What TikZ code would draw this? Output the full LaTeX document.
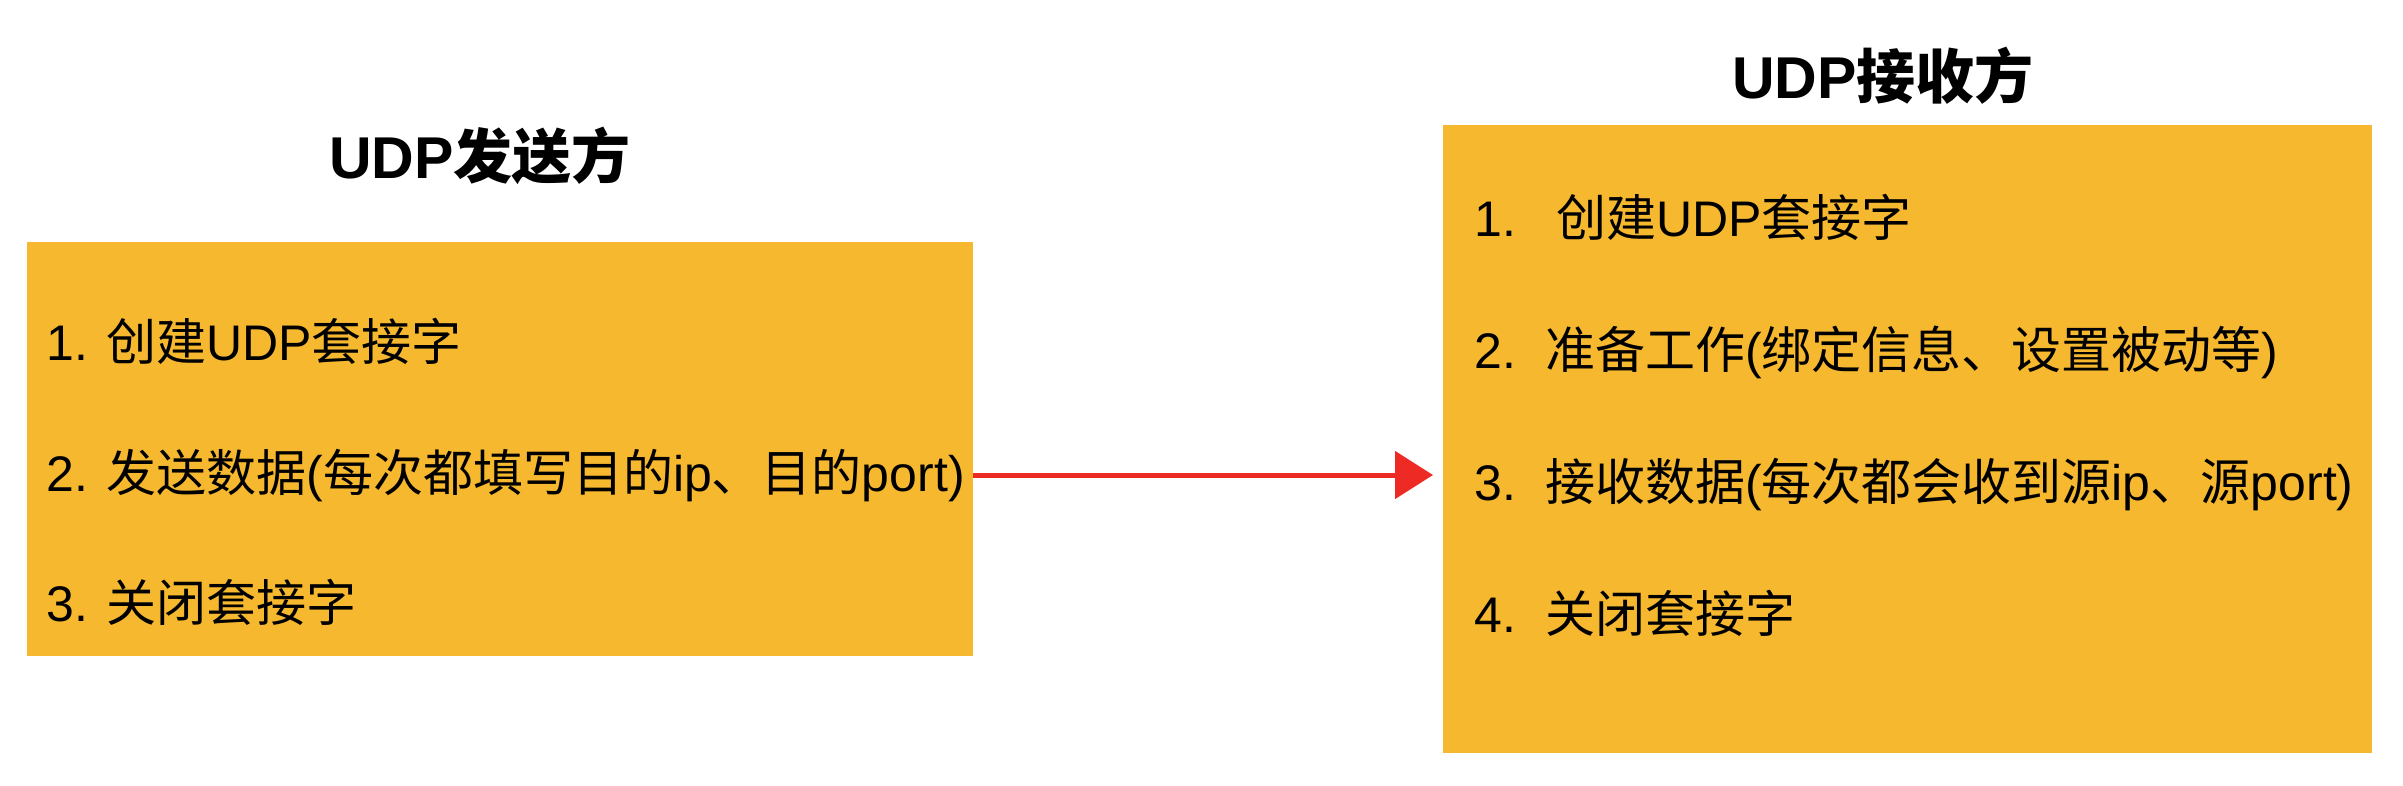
\documentclass[tikz,border=0pt]{standalone}
\usepackage{fontspec}
\setmainfont{Liberation Sans}
\newfontfamily\cjk{Noto Sans CJK SC}
\usetikzlibrary{arrows.meta}
\definecolor{boxfill}{HTML}{F6B82E}
\definecolor{arrred}{HTML}{EE2A24}
\begin{document}
\begin{tikzpicture}[x=1pt,y=-1pt,
  panel/.style={fill=boxfill,draw=none,inner sep=0pt,outer sep=0pt},
  item/.style={anchor=base west,inner sep=0pt,font=\fontsize{50}{60}\selectfont},
  title/.style={anchor=base west,inner sep=0pt,font=\fontsize{59}{70}\selectfont\bfseries},
  arr/.style={draw=arrred,line width=5pt,-{Triangle[length=38pt,width=47pt]}}]
\useasboundingbox (0,0) rectangle (2403,785);
% boxes
\node[panel,minimum width=946pt,minimum height=414pt,anchor=north west] (sendbox) at (27,242) {};
\node[panel,minimum width=929pt,minimum height=628pt,anchor=north west] (recvbox) at (1443,125) {};
% titles
\node[title] (sendtitle) at (329,178) {UDP{\cjk\bfseries 发送方}};
\node[title] (recvtitle) at (1732,98) {UDP{\cjk\bfseries 接收方}};
% sender items
\node[item] (s1) at (46,360) {1. {\cjk 创建}UDP{\cjk 套接字}};
\node[item] (s2) at (46,491) {2. {\cjk 发送数据}({\cjk 每次都填写目的}ip{\cjk 、目的}port)};
\node[item] (s3) at (46,621) {3. {\cjk 关闭套接字}};
% receiver items
\node[item] (r1n) at (1474,236) {1.};
\node[item] (r1) at (1556,236) {{\cjk 创建}UDP{\cjk 套接字}};
\node[item] (r2n) at (1474,368) {2.};
\node[item] (r2) at (1545,368) {{\cjk 准备工作}({\cjk 绑定信息、设置被动等})};
\node[item] (r3n) at (1474,500) {3.};
\node[item] (r3) at (1545,500) {{\cjk 接收数据}({\cjk 每次都会收到源}ip{\cjk 、源}port)};
\node[item] (r4n) at (1474,632) {4.};
\node[item] (r4) at (1545,632) {{\cjk 关闭套接字}};
% arrow
\draw[arr] (sendbox.east |- 0,475) -- ([xshift=-10pt]recvbox.west |- 0,475);
\end{tikzpicture}
\end{document}
